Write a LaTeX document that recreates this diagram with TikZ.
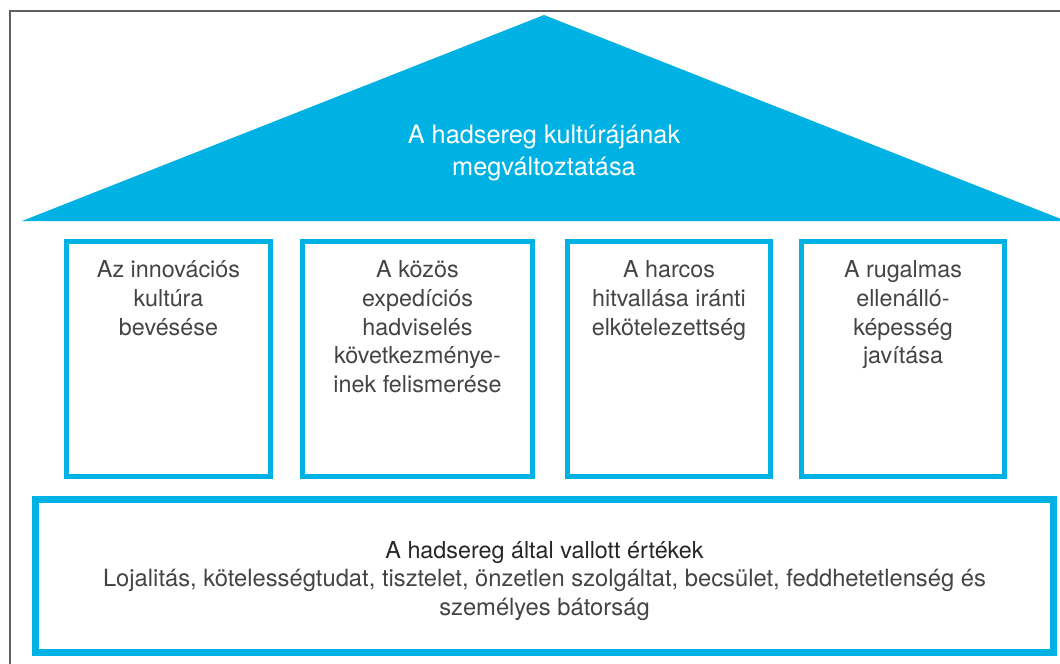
\documentclass[tikz,border=0pt]{standalone}
\usepackage{fontspec}
\setmainfont{TeX Gyre Heros}
\usepackage{tikz}
\usetikzlibrary{positioning}
\usepackage{xcolor}
\definecolor{armyblue}{RGB}{0,178,227}
\definecolor{textgray}{RGB}{68,68,68}
\definecolor{framegray}{RGB}{95,95,95}
\tikzset{%
	pillar/.style={
		draw=armyblue,
		line width=0.125cm,
		minimum height=5.875cm,
		inner sep=0pt,
		outer sep=0pt
	},
	pillar text/.style={
		align=center,
		inner sep=0pt,
		text=textgray,
		font=\fontsize{16.6}{20.3}\selectfont
	},
}

\begin{document}
\begin{tikzpicture}[
			x=0.025cm, y=-0.025cm,
			every node/.style={font=\fontsize{16.6}{20.3}\selectfont}
			]
			\clip (0,0) rectangle (1060,664);
			\useasboundingbox (0,0) rectangle (1060,664);
			\fill[white] (0,0) rectangle (1060,664);
			
			% frame
			\draw[framegray, line width=0.05cm] (10,670) -- (10,11) -- (1070,11);
			
			% roof
			\fill[armyblue] (22,221) -- (544,15) -- (1066,221) -- cycle;
			\node[align=center, text=white, font=\fontsize{18}{22.3}\selectfont] (roof) at (544,153) {A hadsereg kultúrájának\\megváltoztatása};
			
			% pillars
			\node[pillar, minimum width=5.1cm] (P1) at (168.5,359) {};
			\node[pillar, minimum width=5.75cm] (P2) at (417.5,359) {};
			\node[pillar, minimum width=5.075cm] (P3) at (669,359) {};
			\node[pillar, minimum width=5.075cm] (P4) at (903,359) {};
			
			\node[pillar text, anchor=north, below=0.48cm of P1.north] (T1) {Az innovációs\\kultúra\\bevésése};
			\node[pillar text, anchor=north, below=0.48cm of P2.north] (T2) {A közös\\expedíciós\\hadviselés\\következménye-\\inek felismerése};
			\node[pillar text, anchor=north, below=0.48cm of P3.north] (T3) {A harcos\\hitvallása iránti\\elkötelezettség};
			\node[pillar text, anchor=north, below=0.48cm of P4.north] (T4) {A rugalmas\\ellenálló-\\képesség\\javítása};
			
			% foundation
			\node[pillar, line width=0.175cm, minimum width=25.45cm, minimum height=3.825cm] (base) at (544.5,576) {};
			\node[pillar text, text=black!85, below=1.05cm of base.north] (values) {A hadsereg által vallott értékek};
			\node[pillar text, font=\fontsize{16.9}{20.3}\selectfont, below=0.12cm of values] (valuelist) {Lojalitás, kötelességtudat, tisztelet, önzetlen szolgáltat, becsület, feddhetetlenség és\\személyes bátorság};
			
		\end{tikzpicture}
\end{document}
